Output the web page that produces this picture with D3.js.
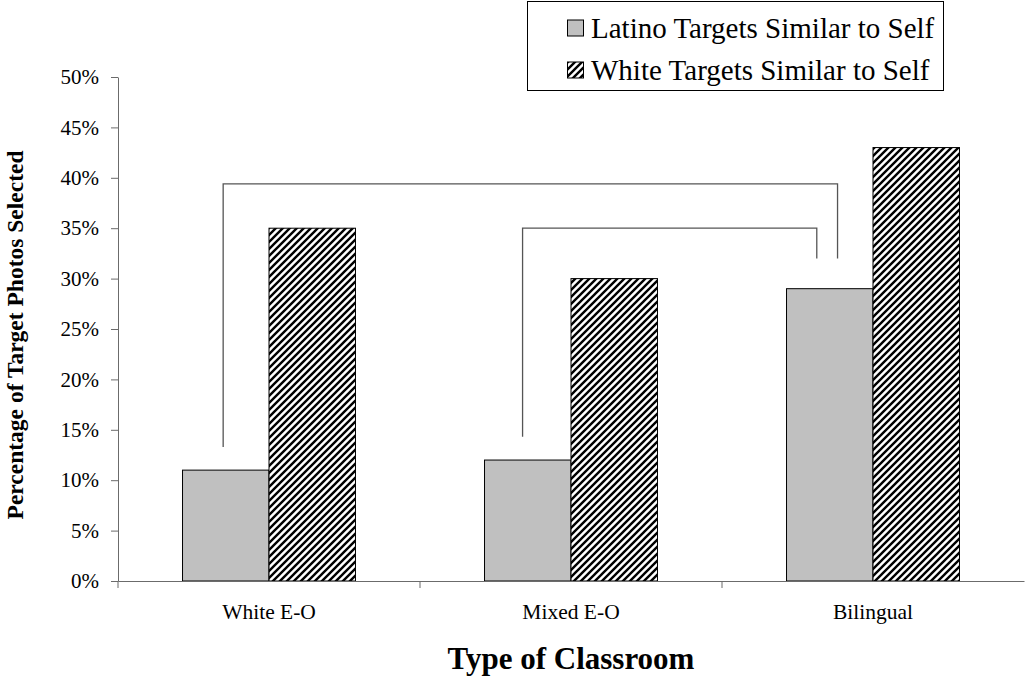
<!DOCTYPE html>
<html><head><meta charset="utf-8">
<script src="https://cdn.jsdelivr.net/npm/d3@7"></script>
<style>body{margin:0;background:#fff}svg{display:block}</style>
</head><body>
<svg id="c" width="1028" height="678"></svg>
<script>
const categories = ["White E-O", "Mixed E-O", "Bilingual"];
const seriesNames = ["Latino Targets Similar to Self", "White Targets Similar to Self"];
const latinoValues = [11, 12, 29];
const whiteValues = [35, 30, 43];
const yTicks = [0, 5, 10, 15, 20, 25, 30, 35, 40, 45, 50];
// comparison brackets (values in %; fx/tx = position across the Latino bar of each category)
const brackets = [
  {from: "White E-O", to: "Bilingual", level: 39.4, leftEnd: 13.3, rightEnd: 32, fx: 0.47, tx: 0.59},
  {from: "Mixed E-O", to: "Bilingual", level: 35.0, leftEnd: 14.3, rightEnd: 32, fx: 0.44, tx: 0.35}
];

const FONT = "Liberation Serif";
const svg = d3.select("#c");
const x = d3.scaleBand().domain(categories).range([118, 1024]).paddingInner(0).paddingOuter(0);
const y = d3.scaleLinear().domain([0, 50]).range([581, 77]);
const sub = d3.scaleBand().domain([0, 1]).range([0, x.bandwidth()]).paddingInner(0).paddingOuter(0.746);

const defs = svg.append("defs");
const pat = defs.append("pattern").attr("id", "hatch").attr("patternUnits", "userSpaceOnUse")
  .attr("width", 7).attr("height", 7);
pat.append("rect").attr("width", 7).attr("height", 7).attr("fill", "#fff");
pat.append("path").attr("d", "M-1,1 l2,-2 M0,7 l7,-7 M6,8 l2,-2").attr("stroke", "#000").attr("stroke-width", 2.4);

const axisColor = "#6b6b6b";

// bars
const rows = categories.map((c, i) => ({c, v: [latinoValues[i], whiteValues[i]]}));
const g = svg.append("g");
rows.forEach(r => {
  r.v.forEach((v, j) => {
    g.append("rect")
      .attr("x", x(r.c) + sub(j))
      .attr("y", y(v))
      .attr("width", sub.bandwidth())
      .attr("height", y(0) - y(v))
      .attr("fill", j === 0 ? "#c0c0c0" : "url(#hatch)")
      .attr("stroke", "#000").attr("stroke-width", 1);
  });
});

// y axis
const yAxis = svg.append("g").attr("transform", "translate(118,0)")
  .call(d3.axisLeft(y).tickValues(yTicks).tickFormat(d => d + "%").tickSize(7).tickSizeOuter(0));
yAxis.attr("font-family", FONT);
yAxis.select(".domain").attr("stroke", axisColor);
yAxis.selectAll(".tick line").attr("stroke", axisColor);
yAxis.selectAll(".tick text").attr("font-size", 21).attr("fill", "#000").attr("x", -19)
  .attr("font-family", FONT);

// x axis
const xAxis = svg.append("g").attr("transform", `translate(0,${y(0)})`)
  .call(d3.axisBottom(x).tickSize(0).tickSizeOuter(0));
xAxis.attr("font-family", FONT);
xAxis.select(".domain").attr("stroke", axisColor);
xAxis.selectAll(".tick text").attr("font-size", 21.5).attr("fill", "#000").attr("dy", 0).attr("y", 38)
  .attr("font-family", FONT);
// boundary ticks
const bounds = categories.map(c => x(c));
svg.append("g").selectAll("line").data(bounds).join("line")
  .attr("x1", d => d).attr("x2", d => d).attr("y1", y(0)).attr("y2", y(0) + 7)
  .attr("stroke", axisColor);

// brackets
brackets.forEach(b => {
  const x1 = x(b.from) + sub(0) + sub.bandwidth() * b.fx;
  const x2 = x(b.to) + sub(0) + sub.bandwidth() * b.tx;
  svg.append("path")
    .attr("d", `M${x1},${y(b.leftEnd)}V${y(b.level)}H${x2}V${y(b.rightEnd)}`)
    .attr("fill", "none").attr("stroke", "#555").attr("stroke-width", 1.3);
});

// axis titles
svg.append("text").attr("transform", `translate(23,${(y(0) + y(50)) / 2 + 6}) rotate(-90)`)
  .attr("text-anchor", "middle").attr("font-weight", "bold").attr("font-size", 23.5)
  .attr("font-family", FONT)
  .text("Percentage of Target Photos Selected");
svg.append("text").attr("x", x("Mixed E-O") + x.bandwidth() / 2).attr("y", 669)
  .attr("text-anchor", "middle").attr("font-weight", "bold").attr("font-size", 31)
  .attr("font-family", FONT)
  .text("Type of Classroom");

// legend
const lg = svg.append("g");
lg.append("rect").attr("x", 527.5).attr("y", 1.5).attr("width", 416).attr("height", 89)
  .attr("fill", "#fff").attr("stroke", "#000").attr("stroke-width", 1);
seriesNames.forEach((n, i) => {
  const cy = 28 + i * 42;
  lg.append("rect").attr("x", 567.5).attr("y", cy - 8).attr("width", 16).attr("height", 16)
    .attr("fill", i === 0 ? "#c0c0c0" : "url(#hatch)").attr("stroke", "#000");
  lg.append("text").attr("x", 591).attr("y", cy + 9.5).attr("font-size", 29)
    .attr("font-family", FONT).text(n);
});
</script>
</body></html>
